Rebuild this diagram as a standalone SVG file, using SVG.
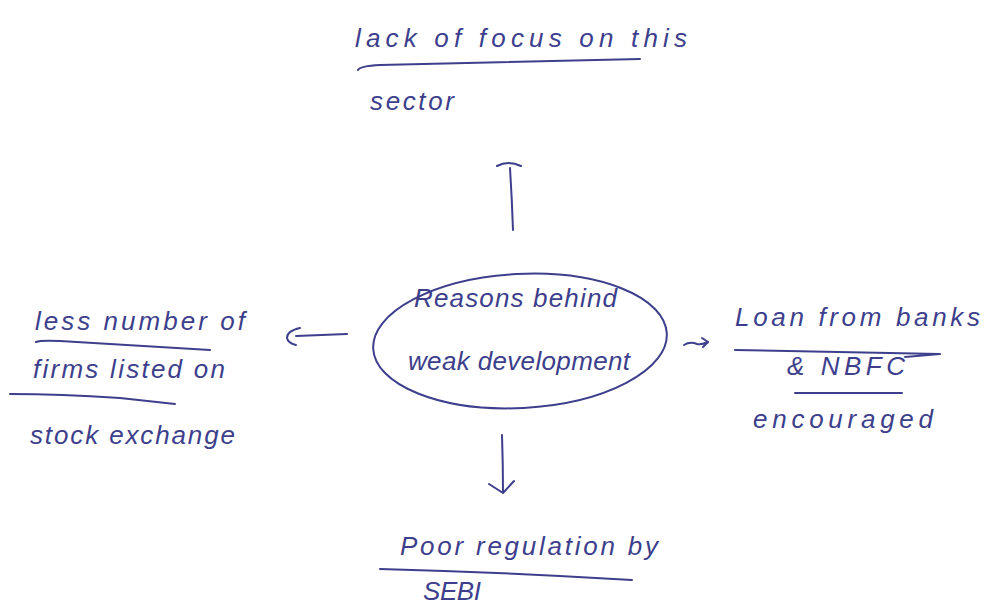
<svg xmlns="http://www.w3.org/2000/svg" width="985" height="607" viewBox="0 0 985 607">
  <style>
    .ink { fill: none; stroke: #3d3f8c; stroke-width: 2; stroke-linecap: round; stroke-linejoin: round; }
    .hand { font-family: "Liberation Sans", "DejaVu Sans", sans-serif; font-style: italic; font-size: 26px; fill: #3d3f8c; }
  </style>
  <rect width="985" height="607" fill="#ffffff"/>

  <!-- Top node -->
  <g id="node-focus">
    <text class="hand" x="355" y="47" textLength="332" lengthAdjust="spacing">lack of focus on this</text>
    <path class="ink" d="M358 70 Q360 66 380 65 L640 59"/>
    <text class="hand" x="370" y="110" textLength="84" lengthAdjust="spacing">sector</text>
  </g>

  <!-- Central node -->
  <g id="node-center">
    <ellipse class="ink" cx="520" cy="341" rx="147" ry="67" transform="rotate(-3 520 341)"/>
    <text class="hand" x="414" y="307" textLength="203" lengthAdjust="spacing">Reasons behind</text>
    <text class="hand" x="408" y="370" textLength="222" lengthAdjust="spacing">weak development</text>
  </g>

  <!-- Left node -->
  <g id="node-firms">
    <text class="hand" x="35" y="330" textLength="210" lengthAdjust="spacing">less number of</text>
    <path class="ink" d="M36 342 Q40 340 60 341 L210 350"/>
    <text class="hand" x="33" y="378" textLength="192" lengthAdjust="spacing">firms listed on</text>
    <path class="ink" d="M10 394 Q60 394 120 398 L175 404"/>
    <text class="hand" x="30" y="444" textLength="205" lengthAdjust="spacing">stock exchange</text>
  </g>

  <!-- Right node -->
  <g id="node-loan">
    <text class="hand" x="735" y="326" textLength="245" lengthAdjust="spacing">Loan from banks</text>
    <path class="ink" d="M735 350 L940 354 L905 357"/>
    <text class="hand" x="787" y="375" textLength="118" lengthAdjust="spacing">&amp; NBFC</text>
    <path class="ink" d="M795 393 L902 393"/>
    <text class="hand" x="753" y="428" textLength="180" lengthAdjust="spacing">encouraged</text>
  </g>

  <!-- Bottom node -->
  <g id="node-sebi">
    <text class="hand" x="400" y="555" textLength="258" lengthAdjust="spacing">Poor regulation by</text>
    <path class="ink" d="M380 569 Q500 572 632 580"/>
    <text class="hand" x="423" y="600" textLength="58" lengthAdjust="spacing">SEBI</text>
  </g>

  <!-- Connectors -->
  <g id="connectors">
    <!-- up -->
    <path class="ink" d="M513 230 Q512 200 510 168" stroke-width="2.5"/>
    <path class="ink" d="M497 166 Q508 160 521 166" stroke-width="3.5"/>
    <!-- left -->
    <path class="ink" d="M347 334 L296 336"/>
    <path class="ink" d="M300 328 Q287 331 287 338 Q288 343 296 345"/>
    <!-- right -->
    <path class="ink" d="M684 345 Q690 341 697 344 Q702 345 708 342"/>
    <path class="ink" d="M702 338 L708 342 L703 347"/>
    <!-- down -->
    <path class="ink" d="M502 435 Q503 465 503 492"/>
    <path class="ink" d="M489 484 L503 493 L514 481"/>
  </g>
</svg>
